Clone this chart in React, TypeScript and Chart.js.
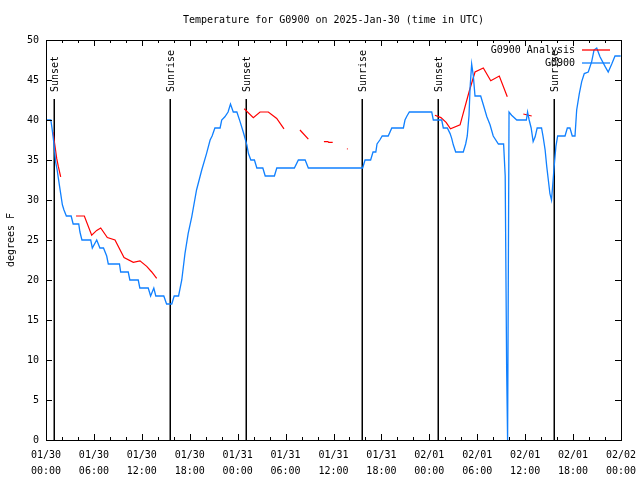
import { useEffect, useRef } from 'react';
import { Chart, registerables } from 'chart.js';

Chart.register(...registerables);

const FONT = '"DejaVu Sans Mono", monospace';

const chartTitle = 'Temperature for G0900 on 2025-Jan-30 (time in UTC)';
const yTitle = 'degrees F';
const seriesNames = ['G0900 Analysis', 'G0900'];

const tickDates = ['01/30', '01/30', '01/30', '01/30', '01/31', '01/31', '01/31', '01/31', '02/01', '02/01', '02/01', '02/01', '02/02'];
const tickTimes = ['00:00', '06:00', '12:00', '18:00', '00:00', '06:00', '12:00', '18:00', '00:00', '06:00', '12:00', '18:00', '00:00'];

const eventHours = [1.05, 15.57, 25.08, 39.6, 49.12, 63.55];
const eventLabels = ['Sunset', 'Sunrise', 'Sunset', 'Sunrise', 'Sunset', 'Sunrise'];

// hours since 01/30 00:00 UTC, temperature (F)
const observed: [number, number][] = [
  [0.1, 40], [0.6, 40], [0.75, 39], [1.0, 37], [1.2, 34.8], [1.4, 33.75], [1.55, 32.7], [1.7, 31.7],
  [1.9, 30.4], [2.05, 29.4], [2.25, 28.75], [2.55, 28], [3.15, 28], [3.4, 27], [4.1, 27], [4.25, 26],
  [4.5, 25], [5.6, 25], [5.8, 24], [6.35, 25], [6.75, 24], [7.2, 24], [7.6, 23], [7.8, 22], [9.2, 22],
  [9.35, 21], [10.3, 21], [10.5, 20], [11.55, 20], [11.75, 19], [12.8, 19], [13.1, 18], [13.5, 19],
  [13.75, 18], [14.75, 18], [15.1, 17], [15.75, 17], [16.05, 18], [16.6, 18], [17.0, 20], [17.4, 23.3],
  [17.8, 25.8], [18.25, 27.9], [18.85, 31.25], [19.5, 33.75], [20.1, 35.8], [20.55, 37.5], [20.8, 38],
  [21.15, 39], [21.8, 39], [22.0, 40], [22.4, 40.4], [22.8, 41], [23.1, 42], [23.45, 41], [23.9, 41],
  [24.3, 39.8], [24.7, 38.5], [25.15, 36.9], [25.35, 35.8], [25.65, 35], [26.1, 35], [26.4, 34],
  [27.15, 34], [27.45, 33], [28.6, 33], [28.9, 34], [31.1, 34], [31.6, 35], [32.45, 35], [32.85, 34],
  [39.65, 34], [39.95, 35], [40.65, 35], [40.95, 36], [41.3, 36], [41.45, 37], [41.8, 37.5], [42.1, 38],
  [42.85, 38], [43.3, 39], [44.75, 39], [44.95, 40], [45.2, 40.5], [45.5, 41], [48.3, 41], [48.5, 40],
  [49.55, 40], [49.75, 39], [50.25, 39], [50.6, 38.3], [50.8, 37.7], [51.0, 36.9], [51.3, 36],
  [52.25, 36], [52.55, 37], [52.75, 38], [52.97, 40.6], [53.1, 44], [53.3, 47], [53.5, 45.6],
  [53.72, 43], [54.43, 43], [54.76, 41.9], [55.2, 40.4], [55.6, 39.4], [56.0, 38], [56.65, 37],
  [57.3, 37], [57.5, 33], [57.68, 9], [57.8, 0], [57.98, 41], [58.3, 40.6], [58.95, 40], [60.15, 40],
  [60.3, 41], [60.5, 40], [60.75, 39], [61.0, 37.3], [61.25, 37.9], [61.5, 39], [62.05, 39],
  [62.25, 37.9], [62.5, 36.25], [62.7, 34.2], [62.9, 32.5], [63.1, 30.8], [63.3, 30], [63.5, 32.5],
  [63.63, 34.2], [63.85, 36.7], [64.07, 38], [64.99, 38], [65.28, 39], [65.61, 39], [65.9, 38],
  [66.24, 38], [66.45, 41.25], [66.78, 43.3], [67.08, 44.8], [67.4, 45.8], [67.9, 46], [68.33, 47.3],
  [68.62, 48.75], [68.96, 49], [69.37, 47.9], [70.0, 46.7], [70.4, 46], [70.84, 47], [71.25, 48],
  [71.96, 48],
];

const analysis: [number, number | null][] = [
  [0.88, 38.5], [1.13, 36.7], [1.34, 35.2], [1.54, 34.2], [1.84, 32.9], [2.5, null],
  [3.76, 28], [4.8, 28], [5.72, 25.6], [6.35, 26.2], [6.85, 26.5], [7.68, 25.3], [8.64, 25],
  [9.77, 22.8], [10.93, 22.2], [11.77, 22.4], [12.61, 21.7], [13.24, 21], [13.86, 20.2], [18, null],
  [24.82, 41.4], [25.96, 40.3], [26.8, 41], [27.84, 41], [28.89, 40.2], [29.8, 38.9], [30.8, null],
  [31.8, 38.75], [32.85, 37.6], [34, null],
  [34.8, 37.3], [35.3, 37.3], [35.4, 37.2], [35.9, 37.2], [36.8, null],
  [37.68, 36.4], [37.78, 36.4], [43, null],
  [48.7, 40.6], [49.45, 40.3], [50.1, 39.7], [50.65, 38.9], [51.85, 39.4], [52.97, 43.5], [53.72, 46],
  [54.76, 46.5], [55.69, 44.9], [56.76, 45.5], [57.76, 42.9], [58.5, null],
  [59.77, 40.75], [60.82, 40.5],
];

const RED = '#ff0000';
const BLUE = '#1080ff';

const overlay = {
  id: 'overlay',
  beforeDatasetsDraw(chart: any) {
    const { ctx, chartArea: a, scales } = chart;
    const x = scales.x;
    ctx.save();
    ctx.strokeStyle = '#000';
    ctx.fillStyle = '#000';
    ctx.lineWidth = 1.5;
    ctx.font = `10px ${FONT}`;
    const lineTop = a.top + 59;
    eventHours.forEach((h, i) => {
      const px = Math.round(x.getPixelForValue(h)) + 0.25;
      ctx.beginPath();
      ctx.moveTo(px, lineTop);
      ctx.lineTo(px, a.bottom);
      ctx.stroke();
      ctx.save();
      ctx.translate(px + 1.5, lineTop - 7);
      ctx.rotate(-Math.PI / 2);
      ctx.textAlign = 'left';
      ctx.textBaseline = 'middle';
      ctx.fillText(eventLabels[i], 0, 0);
      ctx.restore();
    });
    ctx.restore();
  },
  afterDatasetsDraw(chart: any) {
    const { ctx, chartArea: a, scales } = chart;
    const x = scales.x;
    const y = scales.y;
    ctx.save();
    ctx.strokeStyle = '#000';
    ctx.lineWidth = 1;
    ctx.strokeRect(a.left + 0.5, a.top + 0.5, a.right - a.left, a.bottom - a.top);
    ctx.beginPath();
    for (let h = 0; h <= 72; h += 2) {
      const px = Math.round(x.getPixelForValue(h)) + 0.5;
      const len = h % 6 === 0 ? 6 : 3;
      ctx.moveTo(px, a.bottom);
      ctx.lineTo(px, a.bottom - len);
      ctx.moveTo(px, a.top);
      ctx.lineTo(px, a.top + len);
    }
    for (let v = 0; v <= 50; v += 5) {
      const py = Math.round(y.getPixelForValue(v)) + 0.5;
      ctx.moveTo(a.left, py);
      ctx.lineTo(a.left + 6, py);
      ctx.moveTo(a.right, py);
      ctx.lineTo(a.right - 6, py);
    }
    ctx.stroke();

    // legend
    ctx.font = `10px ${FONT}`;
    ctx.fillStyle = '#000';
    ctx.textAlign = 'right';
    ctx.textBaseline = 'middle';
    const colors = [RED, BLUE];
    seriesNames.forEach((name, i) => {
      const ly = a.top + 10 + i * 13;
      ctx.fillText(name, 575, ly);
      ctx.strokeStyle = colors[i];
      ctx.lineWidth = 1.3;
      ctx.beginPath();
      ctx.moveTo(582, ly);
      ctx.lineTo(610, ly);
      ctx.stroke();
    });
    ctx.restore();
  },
};

export default function App() {
  const ref = useRef<HTMLCanvasElement>(null);
  useEffect(() => {
    document.body.style.margin = '0';
    const canvas = ref.current!;
    const chart = new Chart(canvas, {
      type: 'line',
      data: {
        datasets: [
          {
            label: seriesNames[1],
            data: observed.map(([h, t]) => ({ x: h, y: t })),
            borderColor: BLUE,
            borderWidth: 1.3,
            pointRadius: 0,
            tension: 0,
            spanGaps: false,
          },
          {
            label: seriesNames[0],
            data: analysis.map(([h, t]) => ({ x: h, y: t })),
            borderColor: RED,
            borderWidth: 1.2,
            pointRadius: 0,
            tension: 0,
            spanGaps: false,
          },
        ],
      },
      options: {
        animation: false,
        responsive: false,
        devicePixelRatio: 1,
        layout: { padding: { left: 0, right: 19, top: 0, bottom: 0 } },
        plugins: {
          legend: { display: false },
          tooltip: { enabled: false },
          title: {
            display: true,
            fullSize: false,
            text: chartTitle,
            color: '#000',
            font: { family: FONT, size: 10, weight: 'normal', lineHeight: 1.2 },
            padding: { top: 14, bottom: 14 },
          },
        },
        scales: {
          x: {
            type: 'linear',
            min: 0,
            max: 72,
            grid: { display: false, drawTicks: false },
            border: { display: false },
            afterFit: (s: any) => {
              s.height = 40;
              s.paddingLeft = 0;
              s.paddingRight = 0;
            },
            ticks: {
              stepSize: 6,
              autoSkip: false,
              maxRotation: 0,
              padding: 7,
              color: '#000',
              font: { family: FONT, size: 10, lineHeight: 1.6 },
              callback: (v: any) => {
                const i = Math.round(Number(v) / 6);
                return [tickDates[i], tickTimes[i]];
              },
            },
          },
          y: {
            min: 0,
            max: 50,
            grid: { display: false, drawTicks: false },
            border: { display: false },
            afterFit: (s: any) => {
              s.width = 46;
              s.paddingTop = 0;
              s.paddingBottom = 0;
            },
            title: {
              display: true,
              text: yTitle,
              color: '#000',
              font: { family: FONT, size: 10 },
              padding: { top: 5, bottom: 0 },
            },
            ticks: {
              stepSize: 5,
              padding: 7,
              color: '#000',
              font: { family: FONT, size: 10 },
            },
          },
        },
      },
      plugins: [overlay],
    });
    return () => chart.destroy();
  }, []);
  return (
    <div style={{ position: 'absolute', left: 0, top: 0, width: 640, height: 480, background: '#fff' }}>
      <canvas ref={ref} width={640} height={480} />
    </div>
  );
}
